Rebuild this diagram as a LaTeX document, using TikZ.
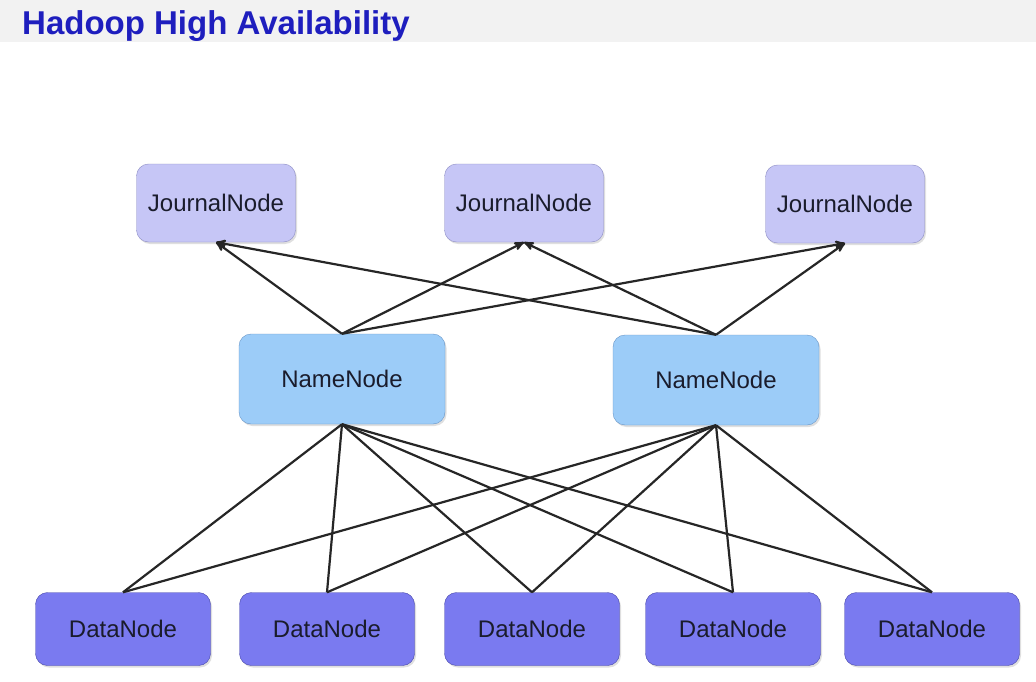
\documentclass[tikz,border=0pt]{standalone}
\usepackage{fontspec}
\setmainfont{Liberation Sans}
\usepackage{tikz}
\usetikzlibrary{arrows,positioning,shadows}
\definecolor{titleblue}{RGB}{30,30,190}
\definecolor{nodetext}{RGB}{26,28,44}
\definecolor{journalfill}{RGB}{198,198,246}
\definecolor{journaledge}{RGB}{140,140,196}
\definecolor{namefill}{RGB}{156,204,248}
\definecolor{nameedge}{RGB}{104,150,200}
\definecolor{datafill}{RGB}{122,122,240}
\definecolor{dataedge}{RGB}{72,72,170}
\definecolor{topband}{RGB}{242,242,242}

\begin{document}
\begin{tikzpicture}[>=stealth',x=1pt,y=-1pt,
  nodebox/.style={rounded corners=12pt,inner sep=0pt,text=nodetext,
    font=\fontsize{24}{27}\selectfont,
    drop shadow={shadow xshift=1.5pt,shadow yshift=-2pt,opacity=.25}},
  journalbox/.style={nodebox,fill=journalfill,draw=journaledge,minimum width=159pt,minimum height=78pt},
  namebox/.style={nodebox,fill=namefill,draw=nameedge,minimum width=206pt,minimum height=90pt},
  databox/.style={nodebox,fill=datafill,draw=dataedge,minimum width=175pt,minimum height=73pt},
  link/.style={line width=2.2pt,black!85}]
\useasboundingbox (0,0) rectangle (1036,682);
\fill[white] (0,0) rectangle (1036,682);
\fill[topband] (0,0) rectangle (1036,42);
\node[anchor=base west,inner sep=0pt,text=titleblue,
  font=\bfseries\fontsize{33}{36}\selectfont] (title) at (22,35) {Hadoop High Availability};
% journal nodes
\node[journalbox] (jn1) at (216,203) {JournalNode};
\node[journalbox] (jn2) at (524,203) {JournalNode};
\node[journalbox] (jn3) at (845,204) {JournalNode};
% name nodes
\node[namebox] (nn1) at (342,379) {NameNode};
\node[namebox] (nn2) at (716,380) {NameNode};
% data nodes
\node[databox] (dn1) at (123,629) {DataNode};
\node[databox] (dn2) at (327,629) {DataNode};
\node[databox] (dn3) at (532,629) {DataNode};
\node[databox] (dn4) at (733,629) {DataNode};
\node[databox] (dn5) at (932,629) {DataNode};
% edits go to every journal node
\draw[link,->] (nn1.north) -- (jn1.south);
\draw[link,->] (nn1.north) -- (jn2.south);
\draw[link,->] (nn1.north) -- (jn3.south);
\draw[link,->] (nn2.north) -- (jn1.south);
\draw[link,->] (nn2.north) -- (jn2.south);
\draw[link,->] (nn2.north) -- (jn3.south);
% every data node reports to both
\draw[link] (nn1.south) -- (dn1.north);
\draw[link] (nn1.south) -- (dn2.north);
\draw[link] (nn1.south) -- (dn3.north);
\draw[link] (nn1.south) -- (dn4.north);
\draw[link] (nn1.south) -- (dn5.north);
\draw[link] (nn2.south) -- (dn1.north);
\draw[link] (nn2.south) -- (dn2.north);
\draw[link] (nn2.south) -- (dn3.north);
\draw[link] (nn2.south) -- (dn4.north);
\draw[link] (nn2.south) -- (dn5.north);
\end{tikzpicture}
\end{document}
